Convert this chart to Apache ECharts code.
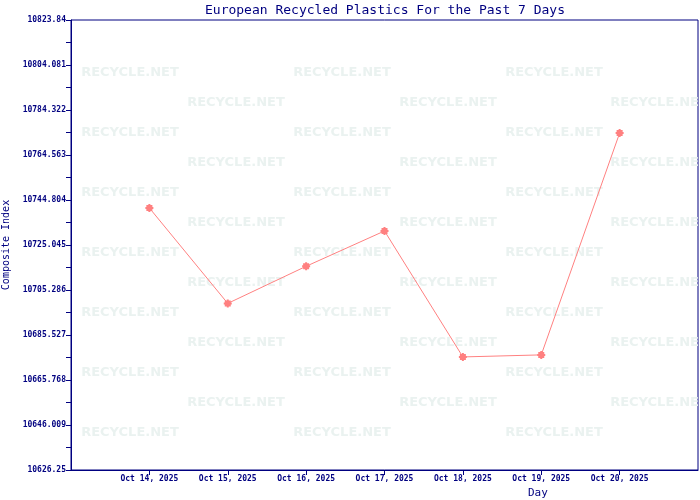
<!DOCTYPE html>
<html>
<head>
<meta charset="utf-8">
<script src="https://cdn.jsdelivr.net/npm/echarts@6/dist/echarts.min.js"></script>
<style>html,body{margin:0;padding:0;background:#fff}#c{width:700px;height:500px}</style>
</head>
<body>
<div id="c"></div>
<script>
var categories = ['Oct 14, 2025','Oct 15, 2025','Oct 16, 2025','Oct 17, 2025','Oct 18, 2025','Oct 19, 2025','Oct 20, 2025'];
var values = [10741.3, 10699.4, 10715.7, 10731.2, 10675.9, 10676.8, 10774.2];
var yTickLabels = [10626.25, 10646.009, 10665.768, 10685.527, 10705.286, 10725.045, 10744.804, 10764.563, 10784.322, 10804.081, 10823.84];
var yMinorTicks = [10636.1295, 10655.8885, 10675.6475, 10695.4065, 10715.1655, 10734.9245, 10754.6835, 10774.4425, 10794.2015, 10813.9605];

var navy = '#000080';
var mono = '"DejaVu Sans Mono", monospace';

var catPos = categories.map(function (c, i) { return i + 1; });
var seriesData = values.map(function (v, i) { return [i + 1, v]; });

var wm = [];
var rowsA = [73, 133, 193, 253, 313, 373, 433];
var rowsB = [103, 163, 223, 283, 343, 403];
rowsA.forEach(function (y) { [130, 342, 554].forEach(function (x) { wm.push([x, y]); }); });
rowsB.forEach(function (y) { [236, 448, 659].forEach(function (x) { wm.push([x, y]); }); });
var graphics = wm.map(function (p) {
  return { type: 'text', x: p[0], y: p[1], silent: true, z: 0,
    clipPath: { type: 'rect', shape: { x: 72 - p[0], y: 21 - p[1], width: 626, height: 449 } },
    style: { text: 'RECYCLE.NET', fill: '#eaf2f0', font: 'bold 13px "DejaVu Sans", sans-serif', align: 'center', verticalAlign: 'middle' } };
});
graphics.push({ type: 'text', left: 528, top: 488, style: { text: 'Day', fill: navy, font: '11px ' + mono } });

var chart = echarts.init(document.getElementById('c'));
chart.setOption({
  animation: false,
  title: { text: 'European Recycled Plastics For the Past 7 Days', left: 385, top: 4, padding: 0, textAlign: 'center',
    textStyle: { color: navy, fontFamily: mono, fontSize: 13, fontWeight: 'normal' } },
  grid: { left: 71, right: 2, top: 20, bottom: 30, show: true, borderColor: navy, borderWidth: 1,
    backgroundColor: 'transparent', containLabel: false, outerBoundsMode: 'none' },
  graphic: graphics,
  xAxis: {
    type: 'value', min: 0, max: 8,
    axisLine: { show: true, lineStyle: { color: navy, width: 1 } },
    axisTick: { show: true, inside: false, length: 5, lineStyle: { color: navy }, customValues: catPos },
    splitLine: { show: false },
    axisLabel: { customValues: catPos, color: navy, fontFamily: mono, fontSize: 8, fontWeight: 'bold', margin: 5,
      formatter: function (v) { return categories[Math.round(v) - 1] || ''; } }
  },
  yAxis: {
    type: 'value', min: yTickLabels[0], max: yTickLabels[yTickLabels.length - 1],
    name: 'Composite Index', nameLocation: 'middle', nameGap: 56,
    nameTextStyle: { color: navy, fontFamily: mono, fontSize: 10 },
    axisLine: { show: true, lineStyle: { color: navy, width: 1 } },
    axisTick: { show: true, inside: false, length: 5, lineStyle: { color: navy }, customValues: yTickLabels.concat(yMinorTicks) },
    splitLine: { show: false },
    axisLabel: { customValues: yTickLabels, color: navy, fontFamily: mono, fontSize: 8, fontWeight: 'bold', margin: 5,
      formatter: function (v) {
        for (var i = 0; i < yTickLabels.length; i++) { if (Math.abs(yTickLabels[i] - v) < 1e-6) return String(yTickLabels[i]); }
        return '';
      } }
  },
  series: [{
    type: 'line', data: seriesData, z: 5,
    lineStyle: { color: '#ff8080', width: 1 },
    itemStyle: { color: '#ff8080' },
    symbol: 'path://M3,0 L5,0 L5,3 L8,3 L8,5 L5,5 L5,8 L3,8 L3,5 L0,5 L0,3 L3,3 Z M1,1 L7,1 L7,7 L1,7 Z',
    symbolSize: 8
  }]
});
</script>
</body>
</html>
